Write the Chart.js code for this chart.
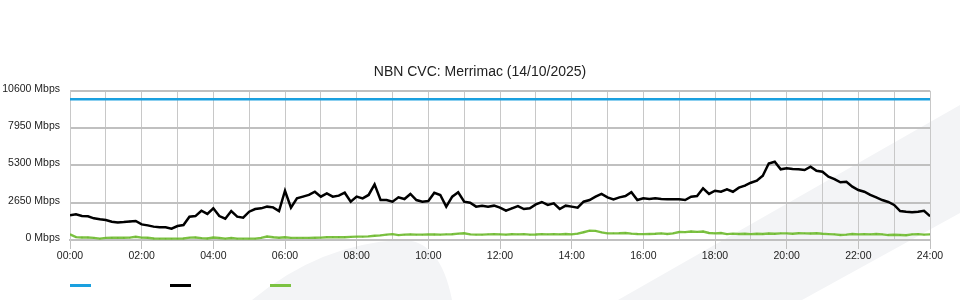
<!DOCTYPE html>
<html>
<head>
<meta charset="utf-8">
<script src="https://cdn.jsdelivr.net/npm/chart.js@4/dist/chart.umd.min.js"></script>
<style>
  html, body { margin: 0; padding: 0; background: #ffffff; }
  #wrap { position: relative; width: 960px; height: 300px; }
  #legend { position: absolute; left: 70px; top: 284px; height: 3px; }
  #legend span { position: absolute; top: 0; width: 21px; height: 3px; }
</style>
</head>
<body>
<div id="wrap">
  <canvas id="c" width="960" height="300"></canvas>
  <div id="legend"></div>
</div>
<script>
// ---- data ----
const chartTitle = 'NBN CVC: Merrimac (14/10/2025)';
const yTicks = [0, 2650, 5300, 7950, 10600];
const xTickLabels = ['00:00','02:00','04:00','06:00','08:00','10:00','12:00','14:00','16:00','18:00','20:00','22:00','24:00'];

const times = [
 '00:00','00:10','00:20','00:30','00:40','00:50',
 '01:00','01:10','01:20','01:30','01:40','01:50',
 '02:00','02:10','02:20','02:30','02:40','02:50',
 '03:00','03:10','03:20','03:30','03:40','03:50',
 '04:00','04:10','04:20','04:30','04:40','04:50',
 '05:00','05:10','05:20','05:30','05:40','05:50',
 '06:00','06:10','06:20','06:30','06:40','06:50',
 '07:00','07:10','07:20','07:30','07:40','07:50',
 '08:00','08:10','08:20','08:30','08:40','08:50',
 '09:00','09:10','09:20','09:30','09:40','09:50',
 '10:00','10:10','10:20','10:30','10:40','10:50',
 '11:00','11:10','11:20','11:30','11:40','11:50',
 '12:00','12:10','12:20','12:30','12:40','12:50',
 '13:00','13:10','13:20','13:30','13:40','13:50',
 '14:00','14:10','14:20','14:30','14:40','14:50',
 '15:00','15:10','15:20','15:30','15:40','15:50',
 '16:00','16:10','16:20','16:30','16:40','16:50',
 '17:00','17:10','17:20','17:30','17:40','17:50',
 '18:00','18:10','18:20','18:30','18:40','18:50',
 '19:00','19:10','19:20','19:30','19:40','19:50',
 '20:00','20:10','20:20','20:30','20:40','20:50',
 '21:00','21:10','21:20','21:30','21:40','21:50',
 '22:00','22:10','22:20','22:30','22:40','22:50',
 '23:00','23:10','23:20','23:30','23:40','23:50',
 '24:00'
];

const capacityTimes = ['00:00', '24:00'];
const capacityMbps = [10000, 10000];

const downloadMbps = [
 1750,1820,1700,1680,1540,1470,
 1420,1300,1250,1280,1320,1350,
 1110,1040, 950, 900, 900, 800,
  990,1060,1650,1700,2080,1850,
 2250,1700,1510,2060,1660,1590,
 2010,2200,2250,2370,2320,2050,
 3500,2300,2960,3080,3200,3430,
 3080,3310,3080,3150,3360,2720,
 3080,2960,3200,3950,2840,2840,
 2720,3030,2910,3270,2840,2720,
 2770,3360,3200,2370,3080,3390,
 2720,2650,2370,2440,2370,2440,
 2300,2080,2250,2410,2200,2250,
 2530,2700,2490,2600,2200,2440,
 2370,2300,2720,2840,3080,3270,
 3030,2890,3030,3120,3390,2840,
 2960,2910,2960,2910,2890,2890,
 2890,2840,3080,3120,3670,3270,
 3500,3430,3600,3430,3720,3860,
 4070,4210,4570,5440,5560,5020,
 5090,5040,5020,4970,5210,4920,
 4850,4500,4330,4100,4140,3790,
 3550,3430,3200,3030,2840,2700,
 2490,2060,2010,1970,2010,2080,
 1700
];

const uploadMbps = [
 400,200,180,180,150,100,
 150,160,160,160,170,230,
 170,160,110,100,100,100,
 100,110,170,180,130,110,
 180,140,100,140,100,100,
 100,100,150,250,200,160,
 200,150,150,150,150,160,
 170,200,200,200,200,220,
 240,240,260,300,330,380,
 420,350,380,400,380,380,
 400,390,380,400,410,450,
 480,400,380,380,400,420,
 400,380,410,400,420,380,
 390,420,400,420,400,430,
 400,450,550,660,650,540,
 470,470,480,500,450,430,
 420,430,440,470,430,470,
 570,560,600,580,600,500,
 470,500,420,450,430,440,
 420,440,430,460,440,470,
 470,440,480,470,460,480,
 440,420,400,360,380,430,
 400,420,400,430,400,350,
 370,360,340,400,420,380,
 400
];

// ---- helpers ----
function toMin(t) { const p = t.split(':'); return (+p[0]) * 60 + (+p[1]); }
function pts(ts, vs) { return ts.map((t, i) => ({ x: toMin(t), y: vs[i] })); }

const FONT = '"Liberation Sans", Arial, sans-serif';

const backdrop = {
  id: 'backdrop',
  beforeDraw(chart) {
    const ctx = chart.ctx;
    ctx.save();
    ctx.fillStyle = '#f3f4f6';
    ctx.beginPath();
    ctx.moveTo(618, 300);
    ctx.lineTo(960, 105);
    ctx.lineTo(960, 213);
    ctx.lineTo(802, 300);
    ctx.closePath();
    ctx.fill();
    ctx.beginPath();
    ctx.moveTo(252, 300);
    ctx.quadraticCurveTo(320, 244, 400, 240);
    ctx.quadraticCurveTo(440, 238, 452, 300);
    ctx.closePath();
    ctx.fill();
    ctx.restore();
  }
};

const datasets = [
  { label: 'Capacity', data: pts(capacityTimes, capacityMbps), borderColor: '#1aa0df', borderWidth: 2.5, pointRadius: 0 },
  { label: 'Download', data: pts(times, downloadMbps), borderColor: '#000000', backgroundColor: '#000000', borderWidth: 2.5, pointRadius: 1, pointStyle: 'rect', pointBorderWidth: 0 },
  { label: 'Upload', data: pts(times, uploadMbps), borderColor: '#7cc242', backgroundColor: '#6fb536', borderWidth: 2.4, pointRadius: 1, pointStyle: 'rect', pointBorderWidth: 0 }
];

const chart = new Chart(document.getElementById('c'), {
  type: 'line',
  data: { datasets },
  plugins: [backdrop],
  options: {
    responsive: false,
    animation: false,
    layout: { padding: 0 },
    elements: { line: { tension: 0 } },
    plugins: {
      legend: { display: false },
      tooltip: { enabled: false },
      title: {
        display: true, text: chartTitle, color: '#222',
        font: { family: FONT, size: 14, weight: 'normal' },
        padding: { top: 64, bottom: 10 }
      }
    },
    scales: {
      x: {
        type: 'linear', min: 0, max: 1440,
        afterFit(s) { s.height = 60; },
        ticks: {
          stepSize: 60, autoSkip: false, maxRotation: 0, padding: 1,
          color: '#222', font: { family: FONT, size: 10.5 },
          callback(v) { return v % 120 === 0 ? xTickLabels[v / 120] : ''; }
        },
        grid: {
          color: '#c8c8c8', lineWidth: 1, tickLength: 9,
          tickColor: (c) => (c.tick && c.tick.value % 120 === 0) ? '#c0c0c0' : 'rgba(0,0,0,0)'
        },
        border: { color: '#c0c0c0', width: 2 }
      },
      y: {
        min: 0, max: 10600,
        afterFit(s) { s.width = 70; },
        afterBuildTicks(s) { s.ticks = yTicks.map(v => ({ value: v })); },
        ticks: {
          padding: 10, labelOffset: -2, color: '#222', font: { family: FONT, size: 10.5 },
          callback(v) { return v + ' Mbps'; }
        },
        grid: { color: '#c0c0c0', lineWidth: 2, drawTicks: false },
        border: { color: '#c8c8c8', width: 1 }
      },
      yRightSpace: {
        position: 'right', min: 0, max: 10600,
        afterFit(s) { s.width = 30; },
        ticks: { display: false },
        grid: { drawOnChartArea: false, drawTicks: false },
        border: { display: false }
      }
    }
  }
});

// HTML legend built from the datasets (line swatches only, no text)
const legend = document.getElementById('legend');
chart.data.datasets.forEach((ds, i) => {
  const s = document.createElement('span');
  s.style.left = (i * 100) + 'px';
  s.style.background = ds.borderColor;
  legend.appendChild(s);
});
</script>
</body>
</html>
